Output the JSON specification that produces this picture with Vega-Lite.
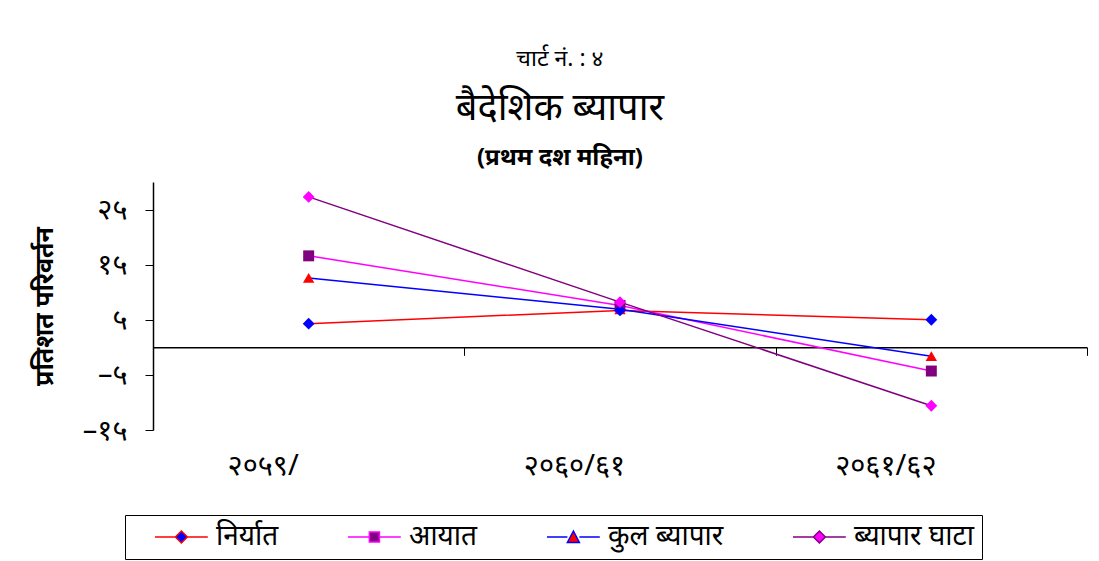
{
  "$schema": "https://vega.github.io/schema/vega-lite/v6.json",
  "background": "white",
  "padding": {"left": 32, "top": 48, "right": 0, "bottom": 0},
  "config": {"font": "Noto Sans", "view": {"stroke": null}},
  "title": {"text": "चार्ट नं. : ४", "fontSize": 23, "fontWeight": "normal", "anchor": "middle", "offset": 19, "color": "black"},
  "vconcat": [
    {
      "width": 934,
      "height": 248,
      "title": {"text": "बैदेशिक ब्यापार", "subtitle": "(प्रथम दश महिना)", "fontSize": 38, "fontWeight": "normal", "color": "black", "subtitleFontSize": 24, "subtitleFontWeight": "bold", "subtitleColor": "black", "subtitlePadding": 18, "offset": 12, "anchor": "middle", "frame": "bounds"},
      "data": {
        "values": [
          {"year": "२०५९/", "series": "निर्यात", "value": 4.3},
          {"year": "२०६०/६१", "series": "निर्यात", "value": 6.7},
          {"year": "२०६१/६२", "series": "निर्यात", "value": 5.0},
          {"year": "२०५९/", "series": "आयात", "value": 16.6},
          {"year": "२०६०/६१", "series": "आयात", "value": 7.6},
          {"year": "२०६१/६२", "series": "आयात", "value": -4.3},
          {"year": "२०५९/", "series": "कुल ब्यापार", "value": 12.6},
          {"year": "२०६०/६१", "series": "कुल ब्यापार", "value": 6.9},
          {"year": "२०६१/६२", "series": "कुल ब्यापार", "value": -1.6},
          {"year": "२०५९/", "series": "ब्यापार घाटा", "value": 27.3},
          {"year": "२०६०/६१", "series": "ब्यापार घाटा", "value": 8.2},
          {"year": "२०६१/६२", "series": "ब्यापार घाटा", "value": -10.6}
        ]
      },
      "encoding": {
        "x": {
          "field": "year",
          "type": "ordinal",
          "sort": ["२०५९/", "२०६०/६१", "२०६१/६२"],
          "bandPosition": 0.5,
          "scale": {"type": "band", "paddingInner": 0, "paddingOuter": 0},
          "axis": {"title": null, "orient": "bottom", "offset": -82.67, "tickBand": "extent", "domainColor": "black", "domainWidth": 1.5, "tickColor": "black", "tickSize": 8, "labelPadding": 96, "labelFontSize": 29, "labelColor": "black", "labelAngle": 0, "labelOffset": -46}
        },
        "y": {
          "field": "value",
          "type": "quantitative",
          "scale": {"domain": [-15, 30], "nice": false, "zero": false},
          "axis": {
            "values": [-15, -5, 5, 15, 25],
            "labelExpr": "datum.value == 25 ? '२५' : datum.value == 15 ? '१५' : datum.value == 5 ? '५' : datum.value == -5 ? '–५' : '–१५'",
            "grid": false, "domainColor": "black", "domainWidth": 1.5, "tickColor": "black", "tickSize": 8,
            "labelFontSize": 29, "labelPadding": 18, "labelColor": "black",
            "title": "प्रतिशत परिवर्तन", "titleFontSize": 25, "titleFontWeight": "bold", "titlePadding": 25, "titleColor": "black"
          }
        }
      },
      "layer": [
        {
          "mark": {"type": "line", "strokeWidth": 1.5},
          "encoding": {
            "stroke": {
              "field": "series",
              "type": "nominal",
              "scale": {"domain": ["निर्यात", "आयात", "कुल ब्यापार", "ब्यापार घाटा"], "range": ["#FF0000", "#FF00FF", "#0000FF", "#800080"]},
              "legend": {
                "title": null,
                "orient": "none",
                "legendX": -28,
                "legendY": 333,
                "direction": "horizontal",
                "strokeColor": "black",
                "padding": 8,
                "labelFontSize": 28,
                "labelColor": "black",
                "symbolOffset": 20,
                "labelOffset": 35,
                "columnPadding": 47,
                "symbolSize": 576,
                "encode": {
                  "symbols": {
                    "update": {
                      "shape": {"signal": "datum.value === 'आयात' ? 'M-1,0L0.78,0M1.62,0L3.4,0M0.78,-0.42L1.62,-0.42L1.62,0.42L0.78,0.42Z' : datum.value === 'कुल ब्यापार' ? 'M-1,0L0.7,0M1.7,0L3.4,0M1.2,-0.5L1.7,0.45L0.7,0.45Z' : 'M-1,0L0.7,0M1.7,0L3.4,0M1.2,-0.5L1.7,0L1.2,0.5L0.7,0Z'"},
                      "fill": {"signal": "datum.value === 'निर्यात' ? '#0000FF' : datum.value === 'आयात' ? '#800080' : datum.value === 'कुल ब्यापार' ? '#FF0000' : '#FF00FF'"},
                      "stroke": {"signal": "datum.value === 'निर्यात' ? '#FF0000' : datum.value === 'आयात' ? '#FF00FF' : datum.value === 'कुल ब्यापार' ? '#0000FF' : '#800080'"},
                      "strokeWidth": {"value": 1.5},
                      "size": {"value": 576},
                      "opacity": {"value": 1},
                      "fillOpacity": {"value": 1},
                      "strokeOpacity": {"value": 1}
                    }
                  }
                }
              }
            }
          }
        },
        {
          "transform": [{"filter": {"field": "series", "equal": "आयात"}}],
          "mark": {"type": "point", "filled": true, "size": 120, "opacity": 1, "shape": "square"},
          "encoding": {
            "fill": {
              "field": "series",
              "type": "nominal",
              "scale": {"domain": ["निर्यात", "आयात", "कुल ब्यापार", "ब्यापार घाटा"], "range": ["#0000FF", "#800080", "#FF0000", "#FF00FF"]},
              "legend": null
            }
          }
        },
        {
          "transform": [{"filter": {"field": "series", "equal": "कुल ब्यापार"}}],
          "mark": {"type": "point", "filled": true, "size": 130, "opacity": 1, "shape": "triangle-up"},
          "encoding": {
            "fill": {"field": "series", "type": "nominal", "legend": null}
          }
        },
        {
          "transform": [{"filter": {"field": "series", "oneOf": ["निर्यात", "ब्यापार घाटा"]}}],
          "mark": {"type": "point", "filled": true, "size": 140, "opacity": 1, "shape": "diamond"},
          "encoding": {
            "fill": {"field": "series", "type": "nominal", "legend": null}
          }
        }
      ]
    }
  ]
}
